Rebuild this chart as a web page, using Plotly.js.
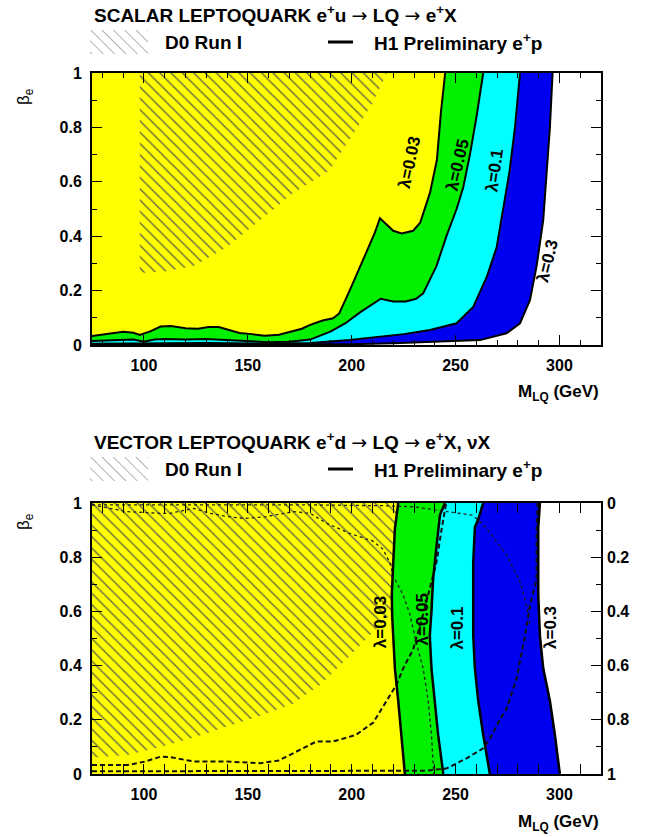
<!DOCTYPE html>
<html><head><meta charset="utf-8">
<script src="https://cdn.plot.ly/plotly-3.0.1.min.js"></script>
<style>html,body{margin:0;padding:0;background:#fff}</style>
</head><body><div id="chart" style="width:647px;height:837px"></div>
<script>
// ---------------- DATA ----------------
const mMin = 75, mMax = 320;

// Scalar LQ (e+u -> LQ -> e+X): H1 exclusion contours, beta_e vs M_LQ (GeV)
const sc003_M = [75, 82, 90, 95, 98, 103, 108, 113, 120, 126, 131, 136, 141, 146, 152, 158, 165, 171, 176, 180, 186, 191, 194, 199, 204, 208, 211, 213.6, 216, 220, 224, 229.6, 233, 237.7, 241, 243, 245];
const sc003_B = [0.033, 0.04, 0.049, 0.045, 0.037, 0.05, 0.068, 0.07, 0.062, 0.06, 0.066, 0.066, 0.055, 0.044, 0.04, 0.034, 0.038, 0.049, 0.06, 0.074, 0.09, 0.098, 0.116, 0.2, 0.29, 0.36, 0.41, 0.466, 0.45, 0.42, 0.41, 0.42, 0.45, 0.56, 0.68, 0.86, 1.0];
const sc005_M = [75, 85, 95, 100, 105, 110, 120, 130, 140, 150, 160, 170, 180, 190, 197, 204, 210, 214, 220, 226, 231, 234.4, 240.8, 245.6, 250.5, 253.7, 256.9, 260.1, 263.3];
const sc005_B = [0.015, 0.018, 0.02, 0.012, 0.02, 0.022, 0.02, 0.022, 0.018, 0.012, 0.01, 0.012, 0.02, 0.05, 0.08, 0.12, 0.15, 0.17, 0.16, 0.16, 0.17, 0.19, 0.29, 0.40, 0.50, 0.58, 0.70, 0.84, 1.0];
const sc01_M = [75, 100, 130, 160, 180, 199, 213.6, 225, 237.7, 250.5, 258.5, 265, 269.8, 273, 276, 278.6, 281];
const sc01_B = [0.005, 0.006, 0.007, 0.005, 0.007, 0.018, 0.03, 0.04, 0.055, 0.08, 0.14, 0.25, 0.36, 0.50, 0.64, 0.80, 1.0];
const sc03_M = [75, 120, 170, 200, 220, 237.7, 261.8, 274.5, 281, 285.8, 289, 292.2, 293.8, 295.4, 296.7];
const sc03_B = [0.002, 0.002, 0.002, 0.003, 0.006, 0.01, 0.018, 0.043, 0.08, 0.165, 0.29, 0.46, 0.62, 0.80, 1.0];
// D0 Run I excluded region (scalar), lower boundary
const d0s_M = [98, 110, 124, 140, 156, 172, 189, 202, 210, 217];
const d0s_B = [0.265, 0.27, 0.29, 0.36, 0.46, 0.56, 0.64, 0.79, 0.89, 1.0];

// Vector LQ (e+d -> LQ -> e+X, nuX): H1 exclusion contours
const vc003_M = [222.4, 220.8, 220, 219.3, 219.5, 220, 220.8, 222.4, 224, 225.6];
const vc003_B = [1, 0.906, 0.78, 0.66, 0.58, 0.51, 0.39, 0.27, 0.145, 0];
const vc005_M = [244.9, 242.5, 240.9, 239.2, 238.4, 237.6, 238.4, 240, 241.6, 244.1];
const vc005_B = [1, 0.956, 0.845, 0.72, 0.60, 0.51, 0.39, 0.27, 0.145, 0];
const vc01_M = [263.3, 260.9, 259.3, 258.5, 258.5, 258.5, 259.3, 260.9, 263.3, 266.5];
const vc01_B = [1, 0.94, 0.91, 0.78, 0.66, 0.51, 0.39, 0.27, 0.145, 0];
const vc03_M = [290.6, 289.8, 289.8, 289.8, 290.6, 292.2, 295.4, 297.8, 300.2];
const vc03_B = [1, 0.91, 0.78, 0.66, 0.51, 0.39, 0.27, 0.145, 0];
// D0 Run I excluded region (vector), lower boundary
const d0v_M = [75, 92, 108, 124, 140, 156, 172, 185, 197, 207, 220, 232, 240];
const d0v_B = [0.06, 0.07, 0.10, 0.135, 0.175, 0.215, 0.26, 0.33, 0.42, 0.50, 0.60, 0.75, 1.0];
// D0 auxiliary curves (vector panel)
const vA_M = [75, 92, 108, 112.5, 124, 132, 140, 148, 159, 172, 180, 188, 199, 210, 215, 218.4, 220, 224.8, 228, 231.2, 234.4, 236.8, 238.4, 239.5];
const vA_B = [0.993, 0.968, 0.962, 0.962, 0.98, 0.962, 0.95, 0.943, 0.95, 0.968, 0.962, 0.925, 0.888, 0.86, 0.83, 0.78, 0.73, 0.66, 0.59, 0.48, 0.39, 0.27, 0.145, 0.0];
const vB_M = [75, 92, 100, 108, 113, 124, 140, 156, 165, 175, 183, 191, 202, 210.4, 216.8, 221.6, 224.8, 229.6, 234.4, 240.8, 243.2, 245, 245.5];
const vB_B = [0.033, 0.033, 0.045, 0.064, 0.062, 0.046, 0.046, 0.04, 0.05, 0.09, 0.12, 0.12, 0.144, 0.19, 0.27, 0.33, 0.39, 0.46, 0.59, 0.78, 0.90, 0.97, 1.0];
const vC_M = [75, 150, 235, 245.6, 255.3, 263.3, 266.5, 271.3, 274.5, 279.3, 283.4, 285.8, 289, 289, 289.5];
const vC_B = [0.01, 0.01, 0.012, 0.02, 0.058, 0.095, 0.13, 0.2, 0.24, 0.35, 0.51, 0.62, 0.72, 0.89, 1.0];
const vD_M = [75, 130, 180, 215, 230, 240, 250, 258, 262, 266.5, 274.5, 281, 284.2, 285.8];
const vD_B = [0.993, 0.993, 0.993, 0.99, 0.986, 0.975, 0.963, 0.955, 0.93, 0.89, 0.81, 0.71, 0.62, 0.55];

const xTicks = [100, 150, 200, 250, 300];
const yTicks = [0, 0.2, 0.4, 0.6, 0.8, 1];
const lambdaLabels = ['λ=0.03', 'λ=0.05', 'λ=0.1', 'λ=0.3'];

// ---------------- STYLE ----------------
const FONT = 'Liberation Sans, Arial, Helvetica, sans-serif';
const C_Y = '#ffff00', C_G = '#00f000', C_C = '#00ffff', C_B = '#0000f0';
const PL = 92, PR = 601, PT = 73, PB = 774; // plot area in px
const px2x = p => (p - PL) / (PR - PL);
const px2y = p => (PB - p) / (PB - PT);

function band(mA, bA, mB, bB) {
  return { x: mA.concat(mB.slice().reverse()), y: bA.concat(bB.slice().reverse()) };
}
function area(xy, color, xa, ya) {
  return { type: 'scatter', mode: 'lines', x: xy.x, y: xy.y, fill: 'toself', fillcolor: color,
           line: { width: 0, color: color }, xaxis: xa, yaxis: ya, hoverinfo: 'skip', showlegend: false };
}
function hatch(xy, xa, ya) {
  return { type: 'scatter', mode: 'lines', x: xy.x, y: xy.y, fill: 'toself', fillcolor: 'rgba(0,0,0,0)',
           fillpattern: { shape: '\\', fgcolor: '#6a6a45', bgcolor: 'rgba(0,0,0,0)', size: 8, solidity: 0.18 },
           line: { width: 0, color: 'rgba(0,0,0,0)' }, xaxis: xa, yaxis: ya, hoverinfo: 'skip', showlegend: false };
}
function curve(m, b, xa, ya, w, dash, col) {
  return { type: 'scatter', mode: 'lines', x: m, y: b, line: { width: w, color: col || '#000', dash: dash || 'solid' },
           xaxis: xa, yaxis: ya, hoverinfo: 'skip', showlegend: false };
}

const traces = [];
// ---- scalar panel
traces.push(area({ x: sc003_M.concat([mMin]), y: sc003_B.concat([1]) }, C_Y, 'x', 'y'));
traces.push(hatch({ x: d0s_M.concat([d0s_M[0]]), y: d0s_B.concat([1]) }, 'x', 'y'));
traces.push(area(band(sc005_M, sc005_B, sc003_M, sc003_B), C_G, 'x', 'y'));
traces.push(area(band(sc01_M, sc01_B, sc005_M, sc005_B), C_C, 'x', 'y'));
traces.push(area(band(sc03_M, sc03_B, sc01_M, sc01_B), C_B, 'x', 'y'));
[[sc003_M, sc003_B], [sc005_M, sc005_B], [sc01_M, sc01_B], [sc03_M, sc03_B]].forEach(c =>
  traces.push(curve(c[0], c[1], 'x', 'y', 2)));
// ---- vector panel
traces.push(area({ x: vc003_M.concat([mMin, mMin]), y: vc003_B.concat([0, 1]) }, C_Y, 'x2', 'y2'));
traces.push(hatch({ x: d0v_M.concat([d0v_M[0]]), y: d0v_B.concat([1]) }, 'x2', 'y2'));
traces.push(area(band(vc005_M, vc005_B, vc003_M, vc003_B), C_G, 'x2', 'y2'));
traces.push(area(band(vc01_M, vc01_B, vc005_M, vc005_B), C_C, 'x2', 'y2'));
traces.push(area(band(vc03_M, vc03_B, vc01_M, vc01_B), C_B, 'x2', 'y2'));
traces.push(curve(vA_M, vA_B, 'x2', 'y2', 1.3, 'dot', '#222'));
traces.push(curve(vD_M, vD_B, 'x2', 'y2', 1.3, 'dot', '#222'));
traces.push(curve(vB_M, vB_B, 'x2', 'y2', 2, '5px,3px', '#111'));
traces.push(curve(vC_M, vC_B, 'x2', 'y2', 2, '5px,3px', '#111'));
[[vc003_M, vc003_B], [vc005_M, vc005_B], [vc01_M, vc01_B], [vc03_M, vc03_B]].forEach(c =>
  traces.push(curve(c[0], c[1], 'x2', 'y2', 2.5)));
// right axis (1 - beta_e) carrier
traces.push({ type: 'scatter', x: [], y: [], xaxis: 'x2', yaxis: 'y3', showlegend: false, hoverinfo: 'skip' });

// ---------------- LAYOUT ----------------
const tickFont = { family: FONT, size: 16, color: '#000', weight: 'bold' };
const axBase = { showline: true, linewidth: 2, linecolor: '#000', mirror: 'allticks', ticks: 'inside',
  ticklen: 10, tickwidth: 1.3, tickcolor: '#000', showgrid: false, zeroline: false, tickfont: tickFont,
  ticklabelstandoff: 5, fixedrange: true };
const xAx = a => Object.assign({}, axBase, { anchor: a, range: [mMin, mMax], tickmode: 'array', tickvals: xTicks,
  minor: { dtick: 10, tick0: 0, ticks: 'inside', ticklen: 5, tickcolor: '#000', tickwidth: 1 } });
const yAx = (a, dom) => Object.assign({}, axBase, { anchor: a, domain: dom, range: [0, 1], tickmode: 'array', tickvals: yTicks,
  minor: { dtick: 0.1, tick0: 0, ticks: 'inside', ticklen: 5, tickcolor: '#000', tickwidth: 1 } });

const topDom = [px2y(345), 1], botDom = [0, px2y(503)];

const tFont = { family: FONT, size: 19, color: '#000', weight: 'bold' };
const ARR = '<span style="font-family:DejaVu Sans;font-weight:normal">→</span>';
const ann = [];
function txt(text, x, y, opts) {
  ann.push(Object.assign({ text: text, x: x, y: y, xref: 'paper', yref: 'paper', showarrow: false,
    xanchor: 'left', yanchor: 'middle', font: tFont }, opts || {}));
}
const panels = [
  { title: 'SCALAR LEPTOQUARK e<sup>+</sup>u ' + ARR + ' LQ ' + ARR + ' e<sup>+</sup>X', ty: 14, ly: 42, xt: 393, beta: 97 },
  { title: 'VECTOR LEPTOQUARK e<sup>+</sup>d ' + ARR + ' LQ ' + ARR + ' e<sup>+</sup>X, νX', ty: 441, ly: 469, xt: 823, beta: 522 }
];
const shapes = [], images = [];
const hatchSvg = "<svg xmlns='http://www.w3.org/2000/svg' width='58' height='24'><defs><pattern id='h' width='8' height='8' patternUnits='userSpaceOnUse' patternTransform='rotate(-45)'><line x1='0' y1='0' x2='0' y2='8' stroke='#a0a0a0' stroke-width='1.6'/></pattern></defs><rect width='58' height='24' fill='url(#h)'/></svg>";
const hatchSrc = 'data:image/svg+xml;charset=utf-8,' + encodeURIComponent(hatchSvg);
panels.forEach(p => {
  txt(p.title, px2x(92), px2y(p.ty));
  images.push({ source: hatchSrc, xref: 'paper', yref: 'paper', x: px2x(90), y: px2y(p.ly), sizex: 58 / 509, sizey: 24 / 701,
    xanchor: 'left', yanchor: 'middle', sizing: 'stretch', layer: 'above' });
  txt('D0 Run I', px2x(163), px2y(p.ly));
  shapes.push({ type: 'line', xref: 'paper', yref: 'paper', x0: px2x(328), x1: px2x(353), y0: px2y(p.ly), y1: px2y(p.ly),
    line: { color: '#000', width: 3 } });
  txt('H1 Preliminary e<sup>+</sup>p', px2x(372), px2y(p.ly));
  txt('M<sub>LQ</sub> (GeV)', 1, px2y(p.xt), { xanchor: 'right', font: { family: FONT, size: 17, color: '#000', weight: 'bold' } });
  txt('β<sub>e</sub>', px2x(25), px2y(p.beta), { xanchor: 'center', textangle: -90, font: { family: FONT, size: 17, color: '#000' } });
});
// lambda labels
const lFont = { family: FONT, size: 17, color: '#000', weight: 'bold' };
const topLab = [[228, 0.67, -78], [251, 0.66, -77], [269, 0.64, -82], [294.4, 0.31, -76]];
const botLab = [[213.6, 0.56, -90], [234.3, 0.57, -90], [251.1, 0.54, -90], [295.6, 0.54, -90]];
topLab.forEach((l, i) => ann.push({ text: lambdaLabels[i], x: l[0], y: l[1], xref: 'x', yref: 'y', textangle: l[2],
  showarrow: false, font: lFont }));
botLab.forEach((l, i) => ann.push({ text: lambdaLabels[i], x: l[0], y: l[1], xref: 'x2', yref: 'y2', textangle: l[2],
  showarrow: false, font: lFont }));

const layout = {
  width: 647, height: 837, paper_bgcolor: '#fff', plot_bgcolor: '#fff',
  margin: { l: PL, r: 647 - PR, t: PT, b: 837 - PB, pad: 0 },
  showlegend: false,
  xaxis: xAx('y'), yaxis: yAx('x', topDom),
  xaxis2: xAx('y2'), yaxis2: yAx('x2', botDom),
  yaxis3: Object.assign({}, axBase, { overlaying: 'y2', anchor: 'x2', side: 'right', range: [1, 0], tickmode: 'array',
    tickvals: yTicks, showline: false, ticks: '', mirror: false }),
  annotations: ann, shapes: shapes, images: images
};
Plotly.newPlot('chart', traces, layout, { displayModeBar: false });
</script></body></html>
